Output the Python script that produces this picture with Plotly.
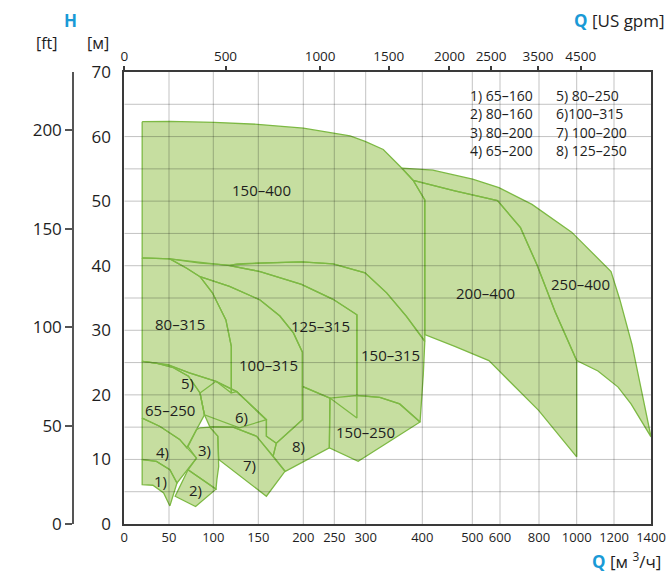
import numpy as np
import plotly.graph_objects as go

# ---------------- axis scale (non-uniform flow axis of the chart) ----------------
SCALE_Q = [0, 50, 100, 150, 200, 250, 300, 400, 500, 600, 800, 1000, 1200, 1400]
SCALE_POS = [0, 44.7, 89, 134, 179, 210, 241.4, 298, 348, 375.7, 414.7, 452.4, 489.7, 526.7]


def fx(q):
    return np.interp(np.asarray(q, dtype=float), SCALE_Q, SCALE_POS)


# ---------------- tick labels ----------------
BOTTOM_TICKS = [0, 50, 100, 150, 200, 250, 300, 400, 500, 600, 800, 1000, 1200, 1400]
GRID_Q = [50, 100, 150, 200, 250, 300, 400, 500, 600, 800, 1000, 1200]
GRID_H = [5, 10, 15, 20, 25, 30, 35, 40, 45, 50, 55, 60, 65]
GPM_TICKS = [0, 500, 1000, 1500, 2000, 2500, 3500, 4500]
GPM_TO_M3H = 0.2271247
H_TICKS = [0, 10, 20, 30, 40, 50, 60, 70]
FT_TICKS = [0, 50, 100, 150, 200]
M_TO_FT = 3.28084

# ---------------- regions: Q [m3/h], H [m] ----------------
Q_150_400 = [20, 51, 101, 149, 200, 248, 275, 299, 331, 364, 384, 405, 405, 372, 337, 299, 248, 198, 152, 118, 85, 51, 20]
H_150_400 = [62.3, 62.35, 62.2, 61.9, 61.3, 60.6, 60.1, 59.25, 58.0, 55.1, 53.2, 50.2, 28.3, 32.15, 35.8, 38.9, 40.3, 40.6, 40.4, 40.1, 40.4, 41.05, 41.2]

Q_250_400 = [364, 421, 501, 596, 764, 973, 1184, 1232, 1297, 1400, 1292, 1222, 1114, 1000, 885, 790, 705, 591, 465, 384]
H_250_400 = [55.1, 54.8, 53.4, 52.1, 49.5, 45.2, 39.1, 34.7, 27.8, 13.5, 18.6, 21.2, 23.7, 25.3, 32.9, 40.1, 45.9, 50.1, 51.6, 53.2]

Q_200_400 = [384, 465, 591, 705, 790, 885, 1000, 1000, 798, 680, 560, 465, 405, 405]
H_200_400 = [53.2, 51.6, 50.1, 45.9, 40.1, 32.9, 25.3, 10.4, 17.6, 21.2, 25.3, 27.5, 29.35, 50.2]

Q_150_315 = [126, 152, 198, 248, 299, 337, 372, 405, 402, 396, 360, 325, 286, 286, 248, 198, 152, 118]
H_150_315 = [40.3, 40.4, 40.6, 40.3, 38.9, 35.8, 32.15, 28.3, 23.2, 15.8, 18.6, 19.6, 19.9, 32.4, 34.8, 37.1, 39.1, 40.0]

Q_125_315 = [118, 152, 198, 248, 286, 286, 243, 199, 199, 189, 174, 152, 118, 85, 70, 51]
H_125_315 = [40.0, 39.1, 37.1, 34.8, 32.4, 16.4, 19.5, 21.3, 26.6, 29.6, 32.2, 34.7, 36.8, 38.3, 39.6, 41.05]

Q_80_315 = [20, 51, 70, 85, 99, 114, 120, 120, 103, 73, 49, 20]
H_80_315 = [41.2, 41.05, 39.6, 38.3, 35.8, 31.6, 27.5, 20.3, 22.1, 23.4, 24.6, 25.2]

Q_100_315 = [85, 118, 152, 174, 189, 199, 199, 170, 159, 159, 126, 120, 120, 114, 99]
H_100_315 = [38.3, 36.8, 34.7, 32.2, 29.6, 26.6, 16.15, 12.5, 13.6, 16.15, 20.5, 20.3, 27.5, 31.6, 35.8]

Q_65_250 = [20, 36, 55, 72, 85, 90, 70, 62, 40, 20]
H_65_250 = [25.2, 24.9, 24.2, 22.9, 20.3, 16.9, 11.8, 13.1, 15.1, 16.4]

Q_80_250 = [20, 49, 73, 103, 126, 159, 129, 90, 85, 72, 55, 36]
H_80_250 = [25.2, 24.7, 23.4, 22.1, 20.5, 16.15, 14.9, 16.9, 20.3, 22.9, 24.2, 24.9]

Q_6 = [103, 126, 159, 159, 170, 166.5, 148, 122, 96, 90, 85]
H_6 = [22.1, 20.5, 16.15, 13.6, 12.5, 10.5, 13.6, 15.0, 15.1, 16.9, 20.3]

Q_100_200 = [96, 122, 148, 166.5, 179.6, 159, 106, 105]
H_100_200 = [15.0, 15.0, 13.6, 10.5, 8.15, 4.3, 10.0, 13.6]

Q_80_200 = [85, 96, 105, 106, 104, 103, 71.5, 81, 71.5, 81]
H_80_200 = [14.9, 15.0, 13.6, 8.9, 6.9, 5.4, 8.4, 10.2, 12.0, 14.6]

Q_65_200 = [20, 40, 62, 81, 59, 51, 36, 20]
H_65_200 = [16.4, 15.1, 13.1, 10.2, 6.35, 8.4, 9.7, 9.95]

Q_65_160 = [20, 36, 51, 59, 51, 44, 32, 20]
H_65_160 = [10.0, 9.7, 8.4, 6.35, 2.8, 4.8, 6.0, 6.1]

Q_80_160 = [71.5, 103, 80, 57]
H_80_160 = [8.4, 5.4, 2.7, 4.3]

Q_125_250 = [199, 243, 242, 180, 166.5, 170, 199]
H_125_250 = [21.3, 19.5, 11.8, 8.15, 10.5, 12.5, 16.15]

Q_150_250 = [243, 286, 325, 360, 396, 288, 242]
H_150_250 = [19.5, 19.9, 19.6, 18.6, 15.8, 9.7, 11.8]

REGIONS = [
    (Q_150_400, H_150_400), (Q_250_400, H_250_400), (Q_200_400, H_200_400),
    (Q_150_315, H_150_315), (Q_125_315, H_125_315), (Q_80_315, H_80_315),
    (Q_100_315, H_100_315), (Q_65_250, H_65_250), (Q_80_250, H_80_250),
    (Q_6, H_6), (Q_100_200, H_100_200), (Q_80_200, H_80_200),
    (Q_65_200, H_65_200), (Q_65_160, H_65_160), (Q_80_160, H_80_160),
    (Q_125_250, H_125_250), (Q_150_250, H_150_250),
]

# ---------------- region labels ----------------
LABEL_TEXT = ["150–400", "80–315", "125–315", "100–315", "150–315", "200–400", "250–400",
              "150–250", "65–250", "5)", "6)", "3)", "4)", "1)", "2)", "7)", "8)"]
LABEL_Q = [154, 62, 227, 161, 343, 546, 1018, 300, 51, 71, 131, 90, 43, 40, 80, 140, 195]
LABEL_H = [51.8, 30.9, 30.6, 24.7, 26.1, 35.7, 37.2, 14.3, 17.7, 21.9, 16.6, 11.4, 11.2, 6.7, 5.2, 9.2, 12.1]

LEGEND_LEFT = ["1) 65–160", "2) 80–160", "3) 80–200", "4) 65–200"]
LEGEND_RIGHT = ["5) 80–250", "6)100–315", "7) 100–200", "8) 125–250"]

FILL = "#c6dea0"
EDGE = "#7db944"
TXT = "#1e1e1e"
BLUE = "#1a9ad6"
AXC = "#3a3a3a"
FONT = "Open Sans"

fig = go.Figure()

for q, h in REGIONS:
    fig.add_trace(go.Scatter(x=fx(q), y=h, fill="toself", fillcolor=FILL, mode="lines",
                             line=dict(width=0, color=FILL), hoverinfo="skip", showlegend=False))
for q, h in REGIONS:
    fig.add_trace(go.Scatter(x=fx(list(q) + [q[0]]), y=list(h) + [h[0]], mode="lines",
                             line=dict(width=1.3, color=EDGE), hoverinfo="skip", showlegend=False))

# dummy traces to attach the secondary axes
fig.add_trace(go.Scatter(x=fx([0]), y=[0], xaxis="x2", yaxis="y", mode="markers",
                         marker=dict(opacity=0), hoverinfo="skip", showlegend=False))
fig.add_trace(go.Scatter(x=fx([0]), y=[0], xaxis="x", yaxis="y2", mode="markers",
                         marker=dict(opacity=0), hoverinfo="skip", showlegend=False))

# grid lines drawn above the fills (semi-transparent -> multiply look)
shapes = []
for q in GRID_Q:
    xv = float(fx(q))
    shapes.append(dict(type="line", xref="x", yref="y", x0=xv, x1=xv, y0=0, y1=70,
                       layer="above", line=dict(color="rgba(0,0,0,0.24)", width=1)))
for hv in GRID_H:
    shapes.append(dict(type="line", xref="x", yref="y", x0=0, x1=float(fx(1400)), y0=hv, y1=hv,
                       layer="above", line=dict(color="rgba(0,0,0,0.24)", width=1)))

W, HT = 671, 572
ML, MR, MT, MB = 10, 20, 72, 48
PW = W - ML - MR
PH = HT - MT - MB


def px(x):
    return (x - ML) / PW


def py(y):
    return (HT - MB - y) / PH


def note(x, y, text, size, xanchor="center"):
    return dict(x=px(x), y=py(y), xref="paper", yref="paper", text=text, showarrow=False,
                xanchor=xanchor, yanchor="middle", borderpad=0,
                font=dict(family=FONT, size=size, color=TXT))


annotations = []
for t, q, h in zip(LABEL_TEXT, LABEL_Q, LABEL_H):
    annotations.append(dict(x=float(fx(q)), y=h, xref="x", yref="y", text=t, showarrow=False,
                            xanchor="center", yanchor="middle", borderpad=0,
                            font=dict(family=FONT, size=15, color=TXT)))
for i, (a, b) in enumerate(zip(LEGEND_LEFT, LEGEND_RIGHT)):
    yy = 95 + 18.6 * i
    annotations.append(note(469, yy, a, 14, "left"))
    annotations.append(note(555, yy, b, 14, "left"))

annotations += [
    note(70, 20, f"<b><span style='color:{BLUE}'>H</span></b>", 17),
    note(47, 43, "[ft]", 16),
    note(98, 43, "[м]", 16),
    note(666, 20, f"<span style='color:{BLUE}'><b>Q</b></span> [US gpm]", 17, "right"),
    note(662, 560, f"<span style='color:{BLUE}'><b>Q</b></span> [м <sup>3</sup>/ч]", 17, "right"),
]

xr = [0, float(fx(1400))]
x0dom = (124.3 - ML) / PW

fig.update_layout(
    width=W, height=HT,
    margin=dict(l=ML, r=MR, t=MT, b=MB, autoexpand=False),
    paper_bgcolor="white", plot_bgcolor="white",
    showlegend=False,
    font=dict(family=FONT, color=TXT),
    xaxis=dict(domain=[x0dom, 1], range=xr, showgrid=False, zeroline=False, automargin=False,
               showline=True, mirror=True, linecolor=AXC, linewidth=2,
               tickvals=fx(BOTTOM_TICKS).tolist(), ticktext=[str(v) for v in BOTTOM_TICKS],
               ticks="", tickfont=dict(family=FONT, size=13, color=TXT)),
    xaxis2=dict(overlaying="x", side="top", anchor="y", range=xr, showgrid=False, zeroline=False,
                showline=False, automargin=False,
                tickvals=fx([g * GPM_TO_M3H for g in GPM_TICKS]).tolist(),
                ticktext=[str(v) for v in GPM_TICKS],
                ticks="outside", ticklen=5, tickwidth=1.5, tickcolor=AXC,
                tickfont=dict(family=FONT, size=13.5, color=TXT)),
    yaxis=dict(range=[0, 70], showgrid=False, zeroline=False, showline=True, mirror=True,
               linecolor=AXC, linewidth=2, tickvals=H_TICKS, ticks="", automargin=False,
               ticklabelstandoff=8,
               tickfont=dict(family=FONT, size=17, color=TXT)),
    yaxis2=dict(overlaying="y", anchor="free", position=(73 - ML) / PW, side="left",
                range=[0, 70 * M_TO_FT], showgrid=False, zeroline=False, automargin=False,
                showline=True, linecolor="#555555", linewidth=1.5,
                tickvals=FT_TICKS, ticks="outside", ticklen=7, tickwidth=1.5, tickcolor="#555555",
                tickfont=dict(family=FONT, size=17, color=TXT)),
    shapes=shapes,
    annotations=annotations,
)

fig.write_html("out.html", config={"displayModeBar": False},
               post_script="document.body.style.margin='0px';")
